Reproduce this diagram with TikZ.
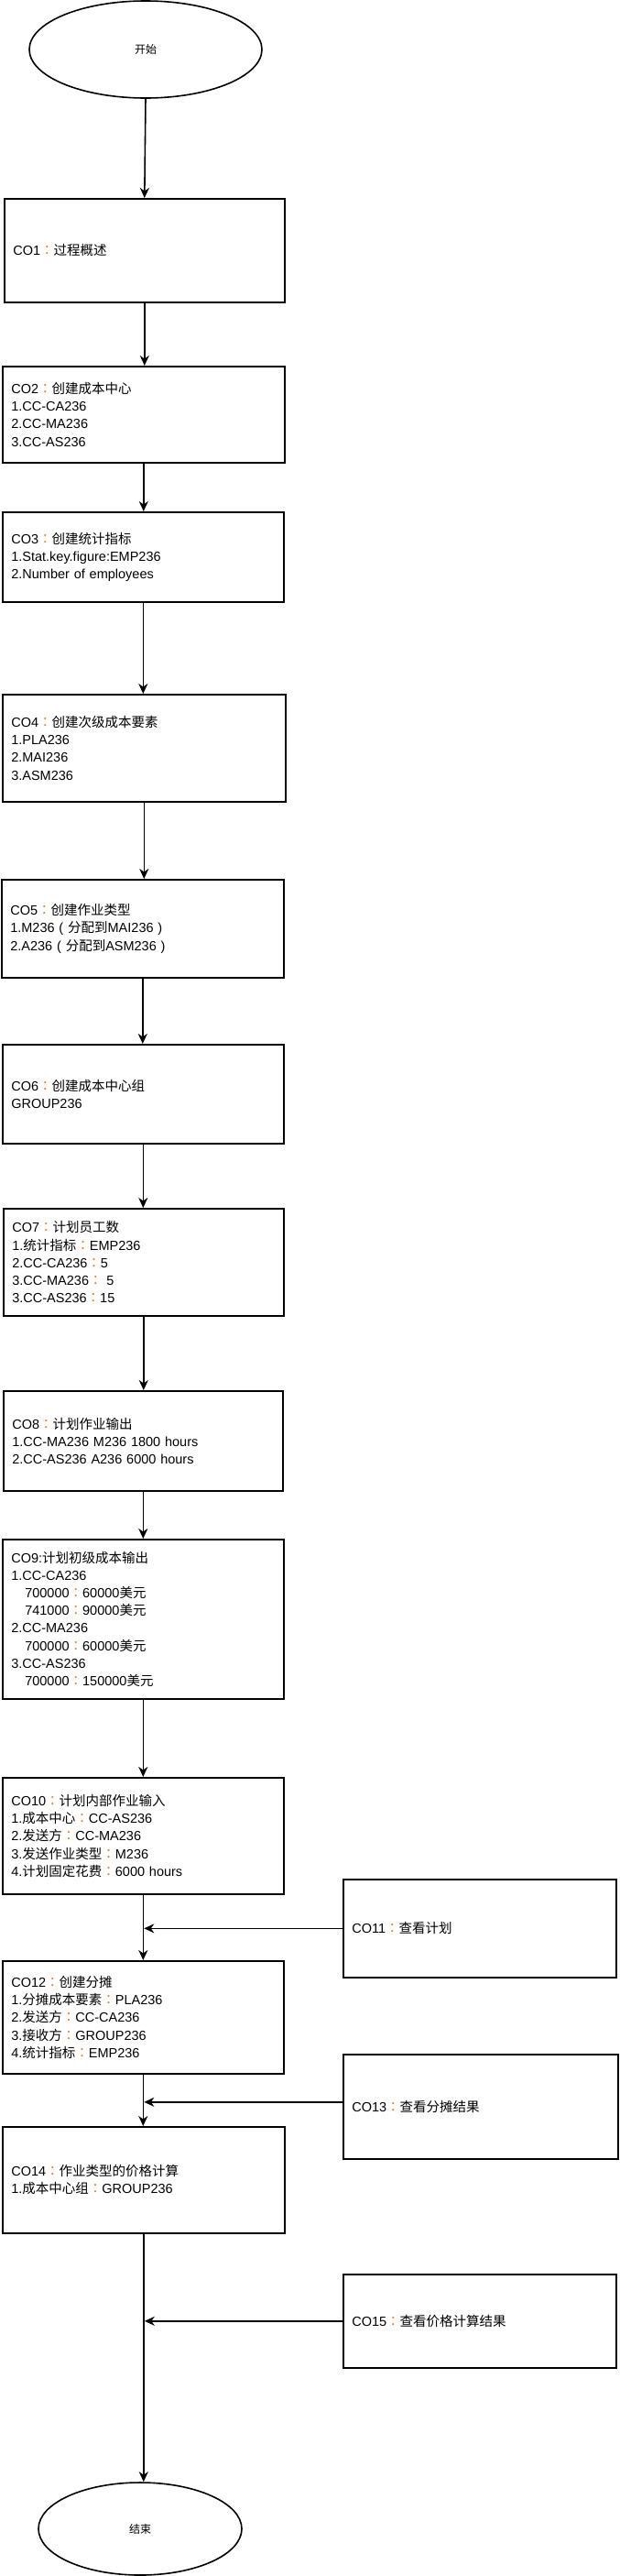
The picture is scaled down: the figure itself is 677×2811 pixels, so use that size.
\documentclass[tikz,border=0pt]{standalone}
\usepackage{fontspec}
\setmainfont{Liberation Sans}
\newfontfamily\cjk{Noto Sans CJK SC}
\newfontfamily\cjktc{Noto Sans CJK TC}
\usetikzlibrary{arrows.meta,shapes.geometric}
\definecolor{colonc}{RGB}{237,125,49}
\newcommand\zh[1]{{\cjk #1}}
\newcommand\cc{{\color{colonc}\cjktc ：}}
\newcommand\lp{\makebox[14.5pt][c]{(}}
\newcommand\rp{\makebox[14.5pt][c]{)}}
\tikzset{
  stepbox/.style={draw=black, line width=1.6pt, rectangle, anchor=north west,
    inner xsep=9.5pt, inner ysep=0pt, align=left,
    font=\fontsize{14.5}{19.2}\selectfont},
  termnode/.style={draw=black, line width=1.6pt, ellipse, inner sep=0pt,
    font=\fontsize{12}{14}\selectfont\cjk},
  conn/.style={line width=1.6pt, -{Stealth[length=11pt,width=10pt,inset=3.5pt]}}
}
\newcommand\bx[7]{% name, x0, y0, x1, y1, text
  \node[stepbox, minimum width=#4pt-#2pt, minimum height=#5pt-#3pt,
        text width=#4pt-#2pt-19pt] (#1) at (#2,#3) {#6};}
\begin{document}
\begin{tikzpicture}[x=1pt,y=-1pt]
\useasboundingbox (0,0) rectangle (677,2811);
\node[termnode, minimum width=254pt, minimum height=106pt] (start) at (159,54) {开始};
\bx{co1}{4}{216}{310}{329}{CO1\cc\zh{过程概述}}{}
\bx{co2}{2}{399}{310}{504}{CO2\cc\zh{创建成本中心}\\1.CC-CA236\\2.CC-MA236\\3.CC-AS236}{}
\bx{co3}{2}{558}{309}{656}{CO3\cc\zh{创建统计指标}\\1.Stat.key.figure:EMP236\\2.Number of employees}{}
\bx{co4}{2}{757}{311}{874}{CO4\cc\zh{创建次级成本要素}\\1.PLA236\\2.MAI236\\3.ASM236}{}
\bx{co5}{1}{959}{309}{1066}{CO5\cc\zh{创建作业类型}\\1.M236\lp\zh{分配到}MAI236\rp\\2.A236\lp\zh{分配到}ASM236\rp}{}
\bx{co6}{2}{1139}{309}{1247}{CO6\cc\zh{创建成本中心组}\\GROUP236}{}
\bx{co7}{3}{1318}{309}{1435}{CO7\cc\zh{计划员工数}\\1.\zh{统计指标}\cc EMP236\\2.CC-CA236\cc 5\\3.CC-MA236\cc\ 5\\3.CC-AS236\cc 15}{}
\bx{co8}{3}{1517}{308}{1626}{CO8\cc\zh{计划作业输出}\\1.CC-MA236 M236 1800 hours\\2.CC-AS236 A236 6000 hours}{}
\bx{co9}{2}{1679}{309}{1853}{CO9:\zh{计划初级成本输出}\\1.CC-CA236\\\hspace*{15pt}700000\cc 60000\zh{美元}\\\hspace*{15pt}741000\cc 90000\zh{美元}\\2.CC-MA236\\\hspace*{15pt}700000\cc 60000\zh{美元}\\3.CC-AS236\\\hspace*{15pt}700000\cc 150000\zh{美元}}{}
\bx{co10}{2}{1939}{309}{2066}{CO10\cc\zh{计划内部作业输入}\\1.\zh{成本中心}\cc CC-AS236\\2.\zh{发送方}\cc CC-MA236\\3.\zh{发送作业类型}\cc M236\\4.\zh{计划固定花费}\cc 6000 hours}{}
\bx{co11}{374}{2050}{672}{2157}{CO11\cc\zh{查看计划}}{}
\bx{co12}{2}{2139}{309}{2262}{CO12\cc\zh{创建分摊}\\1.\zh{分摊成本要素}\cc PLA236\\2.\zh{发送方}\cc CC-CA236\\3.\zh{接收方}\cc GROUP236\\4.\zh{统计指标}\cc EMP236}{}
\bx{co13}{374}{2241}{674}{2355}{CO13\cc\zh{查看分摊结果}}{}
\bx{co14}{2}{2320}{310}{2436}{CO14\cc\zh{作业类型的价格计算}\\1.\zh{成本中心组}\cc GROUP236}{}
\bx{co15}{374}{2481}{672}{2583}{CO15\cc\zh{查看价格计算结果}}{}
\node[termnode, minimum width=222pt, minimum height=101pt] (end) at (153,2759.5) {结束};
% main flow
\draw[conn] (start.south) -- (co1.north);
\draw[conn] (co1.south) -- (co1.south |- co2.north);
\draw[conn] (co2.south) -- (co2.south |- co3.north);
\draw[conn] (co3.south) -- (co3.south |- co4.north);
\draw[conn] (co4.south) -- (co4.south |- co5.north);
\draw[conn] (co5.south) -- (co5.south |- co6.north);
\draw[conn] (co6.south) -- (co6.south |- co7.north);
\draw[conn] (co7.south) -- (co7.south |- co8.north);
\draw[conn] (co8.south) -- (co8.south |- co9.north);
\draw[conn] (co9.south) -- (co9.south |- co10.north);
\draw[conn] (co10.south) -- (co10.south |- co12.north);
\draw[conn] (co12.south) -- (co12.south |- co14.north);
\draw[conn] (co14.south) -- (co14.south |- end.north);
% side inputs
\coordinate (j11) at ([xshift=1pt]co10.south |- co11.west);
\coordinate (j13) at ([xshift=1pt,yshift=5pt]co12.south |- co13.west);
\coordinate (j15) at ([xshift=1pt]co14.south |- co15.west);
\draw[conn] (co11.west) -- (j11);
\draw[conn] ([yshift=5pt]co13.west) -- (j13);
\draw[conn] (co15.west) -- (j15);
\end{tikzpicture}
\end{document}
